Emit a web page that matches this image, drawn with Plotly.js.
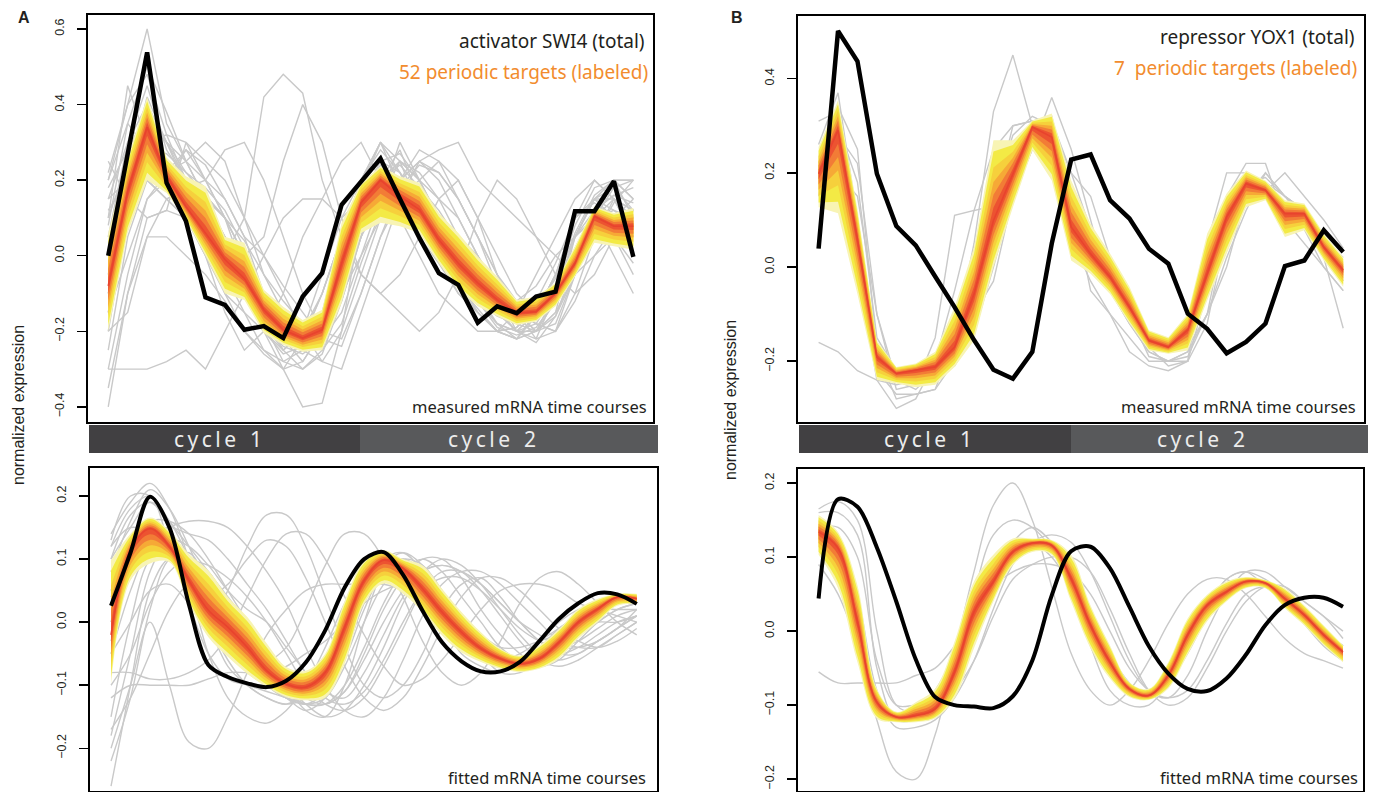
<!DOCTYPE html>
<html>
<head>
<meta charset="utf-8">
<script src="https://cdn.plot.ly/plotly-3.0.1.min.js"></script>
<style>html,body{margin:0;padding:0;overflow:hidden;background:#fff}#chart{width:1373px;height:792px}</style>
</head>
<body>
<div id="chart"></div>
<script>
// time points (28 samples over two cell cycles)
const timePoints = [0,1,2,3,4,5,6,7,8,9,10,11,12,13,14,15,16,17,18,19,20,21,22,23,24,25,26,27];

// ---------- Panel A, measured ----------
const swi4Measured = [0, 0.27, 0.538, 0.193, 0.091, -0.11, -0.13, -0.196, -0.186, -0.218, -0.108, -0.046, 0.135, 0.196, 0.257, 0.15, 0.047, -0.046, -0.077, -0.177, -0.134, -0.152, -0.108, -0.095, 0.118, 0.118, 0.197, -0.003];
const aMeasBandTop = [0.06, 0.26, 0.42, 0.26, 0.21, 0.184, 0.05, 0.034, -0.09, -0.135, -0.17, -0.143, 0.087, 0.193, 0.237, 0.21, 0.193, 0.113, 0.06, -0.002, -0.055, -0.117, -0.108, -0.072, 0.025, 0.131, 0.113, 0.126];
const aMeasBandMid = [-0.08, 0.17, 0.34, 0.21, 0.13, 0.06, -0.01, -0.06, -0.143, -0.196, -0.218, -0.196, -0.02, 0.14, 0.2, 0.157, 0.122, 0.042, -0.02, -0.072, -0.117, -0.152, -0.148, -0.099, -0.02, 0.104, 0.078, 0.078];
const aMeasBandBot = [-0.2, 0.06, 0.2, 0.166, 0.095, 0.0, -0.1, -0.117, -0.205, -0.236, -0.254, -0.25, -0.125, 0.06, 0.087, 0.078, 0.06, -0.02, -0.09, -0.134, -0.16, -0.183, -0.174, -0.134, -0.055, 0.034, 0.025, 0.016];
const aMeasGrey = [
  [0.05,0.3,0.45,0.28,0.2,0.1,0.0,-0.1,-0.18,-0.25,-0.2,-0.05,0.1,0.2,0.28,0.22,0.15,0.05,-0.05,-0.12,-0.18,-0.2,-0.15,-0.05,0.1,0.15,0.12,0.1],
  [0.2,0.4,0.6,0.35,0.25,0.15,0.05,-0.05,-0.15,-0.2,-0.22,-0.1,0.05,0.2,0.3,0.25,0.12,0.05,-0.05,-0.1,-0.15,-0.2,-0.18,-0.1,0.05,0.15,0.2,0.15],
  [-0.1,0.1,0.2,0.15,0.1,0.05,0.0,0.1,0.42,0.48,0.43,0.2,0.05,-0.05,-0.1,-0.15,-0.2,-0.15,-0.05,0.1,0.2,0.15,0.05,-0.05,-0.1,-0.05,0.05,0.1],
  [-0.15,0.0,0.15,0.2,0.28,0.2,0.1,0.0,0.05,0.25,0.4,0.3,0.1,-0.05,-0.1,-0.05,0.05,0.15,0.2,0.1,0.0,-0.1,-0.15,-0.1,0.0,0.1,0.15,0.1],
  [-0.4,-0.1,0.1,0.12,0.1,0.05,-0.05,-0.15,-0.25,-0.3,-0.28,-0.2,-0.1,0.0,0.1,0.2,0.25,0.22,0.15,0.05,-0.05,-0.15,-0.2,-0.15,0.05,0.15,0.18,0.2],
  [-0.3,-0.3,-0.3,-0.28,-0.25,-0.3,-0.2,-0.1,0.0,0.1,0.15,0.15,0.1,0.15,0.2,0.25,0.2,0.1,0.0,-0.1,-0.15,-0.2,-0.2,-0.15,-0.05,0.05,0.1,0.05],
  [0.15,0.3,0.4,0.3,0.25,0.3,0.25,0.1,-0.05,-0.15,-0.2,-0.22,-0.15,0.0,0.15,0.3,0.2,0.1,0.0,-0.1,-0.18,-0.22,-0.2,-0.12,0.0,0.1,0.2,0.15],
  [0.1,0.45,0.3,0.25,0.2,0.05,-0.1,-0.15,-0.2,-0.22,-0.25,-0.15,0.05,0.2,0.3,0.18,0.05,-0.02,-0.1,-0.15,-0.2,-0.22,-0.15,-0.05,0.1,0.2,0.15,0.05],
  [-0.2,0.1,0.25,0.2,0.1,0.0,-0.1,-0.2,-0.25,-0.28,-0.25,-0.2,-0.05,0.1,0.15,0.2,0.25,0.28,0.3,0.2,0.15,0.1,0.05,0.0,-0.05,0.0,0.05,-0.05],
  [0.0,0.2,0.35,0.25,0.15,0.1,0.05,-0.05,-0.15,-0.25,-0.3,-0.25,-0.1,0.05,0.15,0.25,0.2,0.15,0.05,-0.05,-0.1,-0.12,-0.08,0.0,0.05,0.1,0.0,-0.1],
  [-0.25,0.05,0.2,0.15,0.1,0.0,-0.15,-0.25,-0.2,-0.1,0.05,0.15,0.25,0.3,0.2,0.1,0.0,-0.1,-0.15,-0.2,-0.2,-0.15,-0.05,0.05,0.15,0.2,0.15,0.05],
  [0.25,0.15,0.1,0.12,0.3,0.2,0.15,0.05,-0.1,-0.2,-0.25,-0.2,-0.1,0.05,0.2,0.28,0.15,0.05,-0.05,-0.12,-0.18,-0.2,-0.15,-0.05,0.05,0.15,0.1,0.15],
  [-0.15,0.15,0.3,0.25,0.2,0.15,0.1,-0.05,-0.2,-0.3,-0.4,-0.39,-0.2,0.1,0.2,0.25,0.22,0.15,0.1,0.0,-0.1,-0.2,-0.22,-0.1,0.05,0.1,0.05,-0.02],
  [0.1,0.25,0.35,0.3,0.2,0.1,0.0,-0.1,-0.2,-0.25,-0.2,-0.1,0.05,0.15,0.2,0.15,0.1,0.05,0.0,-0.05,-0.1,-0.15,-0.2,-0.18,-0.05,0.1,0.2,0.2],
  [0.2,0.35,0.5,0.38,0.25,0.15,0.05,-0.08,-0.18,-0.24,-0.26,-0.22,-0.05,0.12,0.22,0.2,0.1,0.0,-0.08,-0.15,-0.2,-0.22,-0.2,-0.1,0.05,0.15,0.15,0.12],
  [-0.05,0.22,0.42,0.3,0.18,0.12,0.05,-0.05,-0.15,-0.22,-0.24,-0.18,0.02,0.18,0.3,0.22,0.12,0.02,-0.08,-0.14,-0.2,-0.22,-0.16,-0.08,0.08,0.18,0.2,0.1],
  [0.12,0.2,0.3,0.32,0.3,0.25,0.2,0.1,0.0,-0.1,-0.2,-0.28,-0.3,-0.15,0.0,0.15,0.25,0.2,0.1,0.0,-0.1,-0.15,-0.18,-0.2,-0.1,0.05,0.15,0.12],
  [-0.3,-0.05,0.15,0.22,0.25,0.2,0.1,0.0,-0.1,-0.2,-0.25,-0.28,-0.2,-0.05,0.1,0.2,0.28,0.25,0.15,0.05,-0.05,-0.15,-0.22,-0.2,-0.05,0.1,0.12,0.08],
  [0.18,0.28,0.38,0.3,0.22,0.18,0.12,0.02,-0.12,-0.22,-0.28,-0.2,0.0,0.15,0.25,0.27,0.2,0.08,-0.03,-0.12,-0.19,-0.21,-0.19,-0.12,0.02,0.12,0.16,0.18],
  [-0.1,0.12,0.28,0.27,0.22,0.16,0.1,0.0,-0.1,-0.18,-0.22,-0.25,-0.18,-0.02,0.12,0.2,0.18,0.12,0.04,-0.06,-0.14,-0.2,-0.23,-0.16,-0.02,0.12,0.1,0.06],
  [0.22,0.4,0.48,0.32,0.2,0.1,0.02,-0.1,-0.2,-0.26,-0.24,-0.15,0.02,0.16,0.24,0.19,0.1,0.02,-0.06,-0.12,-0.16,-0.18,-0.17,-0.08,0.06,0.16,0.2,0.2],
  [-0.2,-0.15,0.05,0.15,0.18,0.16,0.1,0.04,-0.05,-0.12,-0.18,-0.2,-0.12,0.05,0.18,0.2,0.15,0.1,0.05,0.0,-0.08,-0.14,-0.18,-0.2,-0.12,0.0,0.08,0.12],
  [0.08,0.35,0.28,0.18,0.14,0.06,-0.02,-0.1,-0.18,-0.28,-0.3,-0.26,-0.12,0.05,0.2,0.24,0.18,0.05,-0.06,-0.15,-0.2,-0.19,-0.12,-0.02,0.1,0.14,0.1,0.0],
  [0.0,0.18,0.32,0.22,0.28,0.24,0.15,0.05,0.0,-0.08,-0.15,-0.22,-0.24,-0.1,0.05,0.18,0.24,0.22,0.15,0.05,-0.08,-0.18,-0.2,-0.16,-0.05,0.05,0.14,0.2],
  [-0.35,-0.1,0.05,0.05,0.0,-0.05,-0.12,-0.2,-0.26,-0.3,-0.22,-0.1,0.05,0.2,0.25,0.22,0.12,0.0,-0.1,-0.15,-0.2,-0.19,-0.14,-0.06,0.05,0.12,0.16,0.14],
  [0.15,0.2,0.25,0.22,0.18,0.2,0.28,0.3,0.2,0.05,-0.1,-0.2,-0.22,-0.1,0.05,0.15,0.2,0.25,0.2,0.1,-0.05,-0.12,-0.15,-0.12,-0.02,0.1,0.18,0.12]
];

// ---------- Panel B, measured ----------
const yox1Measured = [0.039, 0.501, 0.437, 0.198, 0.087, 0.046, -0.02, -0.085, -0.155, -0.218, -0.237, -0.18, 0.05, 0.228, 0.239, 0.142, 0.103, 0.039, 0.007, -0.099, -0.131, -0.183, -0.159, -0.12, 0.002, 0.014, 0.078, 0.032];
const bMeasBandTop = [0.255, 0.354, 0.123, -0.156, -0.212, -0.205, -0.18, -0.085, 0.042, 0.269, 0.269, 0.311, 0.326, 0.184, 0.092, 0.029, -0.042, -0.134, -0.149, -0.099, 0.071, 0.156, 0.205, 0.184, 0.142, 0.135, 0.071, 0.021];
const bMeasBandMid = [0.198, 0.29, 0.059, -0.191, -0.226, -0.219, -0.212, -0.17, -0.057, 0.099, 0.198, 0.297, 0.276, 0.085, 0.028, -0.021, -0.085, -0.156, -0.17, -0.134, -0.014, 0.106, 0.177, 0.163, 0.113, 0.113, 0.042, -0.007];
const bMeasBandBot = [0.127, 0.114, -0.058, -0.24, -0.247, -0.255, -0.25, -0.212, -0.156, 0.0, 0.127, 0.248, 0.184, 0.014, -0.014, -0.057, -0.12, -0.177, -0.184, -0.177, -0.071, 0.029, 0.127, 0.142, 0.064, 0.078, 0.014, -0.042];
const bMeasGrey = [
  [0.31,0.33,0.0,-0.24,-0.3,-0.28,-0.2,-0.05,0.12,0.13,0.3,0.31,0.32,0.15,-0.05,-0.1,-0.15,-0.2,-0.2,-0.18,0.05,0.15,0.22,0.22,0.1,0.05,0.0,-0.05],
  [0.26,0.37,0.1,-0.22,-0.27,-0.27,-0.26,-0.15,0.05,0.33,0.45,0.3,0.22,0.12,0.05,-0.05,-0.12,-0.18,-0.2,-0.19,-0.1,0.1,0.18,0.19,0.15,0.12,0.02,-0.13],
  [-0.16,-0.18,-0.22,-0.24,-0.25,-0.24,-0.22,-0.21,-0.14,0.0,0.15,0.25,0.36,0.25,0.1,-0.05,-0.12,-0.18,-0.2,-0.2,-0.05,0.05,0.15,0.2,0.15,0.1,0.05,-0.03],
  [0.2,0.28,0.22,-0.1,-0.24,-0.26,-0.22,-0.15,-0.1,0.05,0.15,0.25,0.3,0.2,0.15,0.02,-0.1,-0.17,-0.21,-0.2,-0.12,0.08,0.16,0.18,0.15,0.12,0.06,0.02],
  [0.15,0.34,0.25,-0.18,-0.28,-0.27,-0.26,-0.2,-0.1,-0.03,0.15,0.27,0.29,0.06,-0.03,-0.1,-0.18,-0.21,-0.22,-0.2,0.05,0.2,0.2,0.18,0.1,0.08,0.0,-0.05],
  [0.18,0.2,0.15,-0.1,-0.26,-0.25,-0.15,0.11,0.12,0.25,0.3,0.31,0.31,0.2,0.08,0.0,-0.1,-0.19,-0.2,-0.18,-0.1,0.02,0.12,0.2,0.15,0.12,0.05,-0.01],
  [0.22,0.3,0.18,-0.15,-0.22,-0.23,-0.2,-0.15,-0.05,0.15,0.28,0.32,0.3,0.12,0.05,-0.02,-0.08,-0.15,-0.18,-0.17,-0.1,0.0,0.15,0.16,0.2,0.15,0.1,0.04]
];

// ---------- Panel A, fitted ----------
const swi4Fitted = [0.026, 0.11, 0.199, 0.15, 0.028, -0.068, -0.087, -0.097, -0.103, -0.093, -0.064, -0.013, 0.055, 0.1, 0.111, 0.075, 0.018, -0.032, -0.062, -0.078, -0.078, -0.063, -0.03, 0.005, 0.03, 0.046, 0.044, 0.029];
const aFitBandTop = [0.098, 0.14, 0.166, 0.145, 0.108, 0.082, 0.04, 0.008, -0.034, -0.071, -0.077, -0.05, 0.034, 0.098, 0.114, 0.1, 0.09, 0.053, 0.016, -0.016, -0.042, -0.053, -0.037, -0.011, 0.021, 0.037, 0.045, 0.045];
const aFitBandMid = [-0.02, 0.114, 0.148, 0.12, 0.066, 0.019, -0.008, -0.04, -0.077, -0.098, -0.103, -0.08, -0.008, 0.066, 0.098, 0.085, 0.053, 0.016, -0.016, -0.042, -0.058, -0.066, -0.058, -0.032, 0.0, 0.021, 0.04, 0.037];
const aFitBandBot = [-0.098, 0.066, 0.093, 0.095, 0.029, -0.024, -0.055, -0.082, -0.103, -0.119, -0.124, -0.12, -0.066, 0.029, 0.061, 0.045, 0.016, -0.021, -0.048, -0.063, -0.074, -0.079, -0.074, -0.058, -0.026, 0.0, 0.026, 0.029];
const aFitGrey = [
  [0.14,0.19,0.22,0.18,0.1,0.0,-0.07,-0.1,-0.12,-0.13,-0.12,-0.08,-0.02,0.05,0.1,0.11,0.08,0.03,-0.02,-0.05,-0.07,-0.07,-0.05,-0.03,0.0,0.02,0.03,0.04],
  [-0.26,-0.1,0.05,0.1,0.05,-0.05,-0.12,-0.15,-0.16,-0.14,-0.1,-0.04,0.03,0.08,0.1,0.09,0.05,0.0,-0.05,-0.07,-0.08,-0.06,-0.03,0.0,0.02,0.03,0.04,0.04],
  [-0.2,-0.1,0.0,-0.1,-0.19,-0.2,-0.15,-0.08,-0.02,0.02,0.05,0.06,0.06,0.06,0.06,0.05,0.03,0.0,-0.03,-0.05,-0.06,-0.05,-0.03,-0.01,0.01,0.02,0.02,0.02],
  [-0.05,0.0,0.05,0.06,0.03,0.0,0.05,0.12,0.17,0.17,0.12,0.04,-0.04,-0.1,-0.12,-0.1,-0.05,0.02,0.06,0.07,0.04,0.0,-0.03,-0.05,-0.04,-0.02,0.0,0.01],
  [-0.1,-0.05,0.03,0.08,0.1,0.08,0.03,-0.03,-0.06,-0.04,0.02,0.09,0.14,0.14,0.1,0.04,-0.03,-0.08,-0.1,-0.08,-0.03,0.03,0.07,0.08,0.06,0.03,0.0,-0.02],
  [0.12,0.18,0.2,0.16,0.12,0.08,0.04,0.0,-0.05,-0.1,-0.14,-0.15,-0.1,0.0,0.08,0.1,0.09,0.05,0.0,-0.04,-0.06,-0.07,-0.06,-0.04,-0.01,0.01,0.03,0.03],
  [0.05,0.12,0.16,0.16,0.14,0.1,0.05,0.0,-0.05,-0.09,-0.12,-0.13,-0.11,-0.05,0.02,0.07,0.1,0.1,0.07,0.02,-0.02,-0.05,-0.07,-0.06,-0.03,0.0,0.02,0.03],
  [-0.15,0.0,0.1,0.12,0.1,0.06,0.02,-0.02,-0.06,-0.1,-0.13,-0.15,-0.14,-0.1,-0.04,0.03,0.08,0.09,0.08,0.05,0.01,-0.03,-0.06,-0.07,-0.06,-0.04,-0.02,0.0],
  [-0.08,-0.08,-0.09,-0.09,-0.08,-0.06,-0.02,0.04,0.1,0.14,0.14,0.1,0.04,-0.02,-0.07,-0.1,-0.09,-0.06,-0.02,0.02,0.05,0.06,0.06,0.05,0.03,0.02,0.01,0.0],
  [0.1,0.15,0.19,0.16,0.1,0.02,-0.04,-0.08,-0.1,-0.12,-0.14,-0.12,-0.06,0.02,0.08,0.1,0.08,0.04,0.0,-0.03,-0.06,-0.07,-0.07,-0.05,-0.02,0.01,0.03,0.04],
  [-0.18,-0.05,0.08,0.13,0.12,0.09,0.05,0.02,0.0,-0.04,-0.08,-0.12,-0.13,-0.11,-0.06,0.0,0.05,0.07,0.07,0.05,0.02,-0.01,-0.03,-0.04,-0.03,-0.01,0.01,0.02],
  [0.0,0.1,0.14,0.15,0.14,0.13,0.1,0.06,0.02,-0.03,-0.08,-0.11,-0.12,-0.08,-0.02,0.04,0.08,0.1,0.09,0.06,0.02,-0.02,-0.05,-0.06,-0.05,-0.03,-0.01,0.01],
  [-0.12,-0.1,-0.1,-0.1,-0.1,-0.09,-0.08,-0.08,-0.08,-0.07,-0.05,-0.03,0.0,0.03,0.05,0.06,0.05,0.03,0.0,-0.02,-0.04,-0.04,-0.03,-0.02,-0.01,0.0,0.0,0.01],
  [0.08,0.16,0.21,0.18,0.12,0.05,-0.01,-0.06,-0.1,-0.12,-0.13,-0.13,-0.11,-0.06,0.0,0.05,0.08,0.09,0.08,0.06,0.03,0.0,-0.03,-0.05,-0.05,-0.03,-0.01,0.02],
  [-0.03,0.08,0.15,0.14,0.08,0.02,-0.03,-0.07,-0.1,-0.12,-0.12,-0.09,-0.02,0.05,0.09,0.1,0.07,0.03,-0.01,-0.04,-0.06,-0.07,-0.06,-0.04,-0.01,0.01,0.03,0.03],
  [0.04,0.1,0.13,0.12,0.1,0.09,0.07,0.04,0.0,-0.05,-0.1,-0.13,-0.14,-0.12,-0.07,-0.01,0.05,0.08,0.08,0.06,0.03,0.0,-0.02,-0.04,-0.04,-0.03,-0.01,0.01],
  [0.1,0.17,0.19,0.15,0.08,0.0,-0.06,-0.1,-0.12,-0.13,-0.11,-0.06,0.01,0.07,0.1,0.09,0.06,0.02,-0.02,-0.05,-0.07,-0.07,-0.05,-0.02,0.01,0.03,0.04,0.04],
  [-0.22,-0.12,0.02,0.1,0.11,0.06,0.0,-0.05,-0.09,-0.12,-0.13,-0.12,-0.07,0.0,0.06,0.09,0.08,0.05,0.0,-0.04,-0.06,-0.06,-0.04,-0.01,0.01,0.03,0.03,0.03],
  [0.13,0.2,0.2,0.12,0.03,-0.05,-0.09,-0.1,-0.11,-0.12,-0.13,-0.11,-0.05,0.03,0.09,0.11,0.09,0.04,-0.01,-0.05,-0.08,-0.08,-0.06,-0.03,0.0,0.02,0.04,0.04],
  [-0.05,0.05,0.12,0.15,0.16,0.16,0.15,0.12,0.08,0.03,-0.04,-0.1,-0.14,-0.15,-0.12,-0.06,0.01,0.06,0.08,0.08,0.06,0.03,0.0,-0.03,-0.04,-0.04,-0.02,0.0],
  [-0.17,-0.12,-0.05,0.02,0.06,0.06,0.03,-0.02,-0.07,-0.11,-0.13,-0.13,-0.1,-0.04,0.03,0.08,0.1,0.08,0.04,0.0,-0.04,-0.06,-0.06,-0.05,-0.02,0.0,0.02,0.03],
  [0.12,0.15,0.14,0.1,0.06,0.04,0.06,0.1,0.13,0.12,0.07,0.0,-0.07,-0.12,-0.14,-0.12,-0.07,-0.01,0.04,0.07,0.07,0.05,0.02,-0.01,-0.03,-0.04,-0.03,-0.01]
];

// ---------- Panel B, fitted ----------
const yox1Fitted = [0.044, 0.178, 0.168, 0.113, 0.04, -0.038, -0.089, -0.1, -0.102, -0.104, -0.088, -0.04, 0.048, 0.108, 0.114, 0.085, 0.033, -0.02, -0.057, -0.078, -0.081, -0.064, -0.032, 0.008, 0.035, 0.045, 0.045, 0.033];
const bFitBandTop = [0.157, 0.134, 0.062, -0.078, -0.109, -0.096, -0.078, -0.014, 0.067, 0.103, 0.125, 0.125, 0.123, 0.103, 0.035, -0.019, -0.069, -0.078, -0.042, 0.017, 0.049, 0.067, 0.073, 0.069, 0.058, 0.035, 0.008, -0.019];
const bFitBandMid = [0.134, 0.112, 0.013, -0.096, -0.116, -0.114, -0.105, -0.055, 0.026, 0.067, 0.107, 0.119, 0.116, 0.071, 0.008, -0.042, -0.078, -0.087, -0.06, -0.005, 0.035, 0.053, 0.067, 0.065, 0.044, 0.022, -0.005, -0.028];
const bFitBandBot = [0.103, 0.058, -0.042, -0.118, -0.123, -0.123, -0.118, -0.091, -0.023, 0.04, 0.089, 0.107, 0.103, 0.04, -0.023, -0.064, -0.089, -0.093, -0.078, -0.032, 0.013, 0.04, 0.058, 0.058, 0.031, 0.008, -0.019, -0.042];
const bFitGrey = [
  [0.09,0.05,-0.02,-0.12,-0.19,-0.2,-0.14,-0.03,0.08,0.17,0.2,0.15,0.06,-0.03,-0.08,-0.1,-0.08,-0.04,0.01,0.05,0.07,0.07,0.05,0.02,-0.01,-0.03,-0.04,-0.05],
  [-0.055,-0.07,-0.07,-0.07,-0.07,-0.06,-0.05,-0.02,0.02,0.06,0.08,0.09,0.09,0.08,0.05,0.0,-0.05,-0.08,-0.09,-0.08,-0.04,0.01,0.05,0.06,0.05,0.03,0.0,-0.02],
  [0.165,0.175,0.15,0.0,-0.1,-0.11,-0.1,-0.05,0.05,0.13,0.15,0.14,0.11,0.05,-0.02,-0.08,-0.1,-0.1,-0.07,-0.02,0.03,0.07,0.08,0.07,0.05,0.03,0.0,-0.02],
  [0.16,0.16,0.13,-0.05,-0.12,-0.12,-0.11,-0.07,0.0,0.07,0.12,0.14,0.12,0.08,0.03,-0.03,-0.07,-0.09,-0.07,-0.02,0.03,0.07,0.08,0.06,0.04,0.02,0.0,-0.02],
  [0.15,0.13,0.05,-0.08,-0.13,-0.13,-0.12,-0.09,-0.04,0.03,0.09,0.12,0.13,0.12,0.08,0.02,-0.04,-0.08,-0.09,-0.06,0.0,0.05,0.08,0.08,0.06,0.04,0.02,0.0],
  [0.14,0.14,0.1,-0.04,-0.1,-0.1,-0.1,-0.08,-0.04,0.02,0.07,0.09,0.1,0.1,0.08,0.03,-0.03,-0.08,-0.1,-0.09,-0.05,0.0,0.04,0.06,0.06,0.04,0.02,-0.01],
  [0.12,0.1,0.02,-0.09,-0.12,-0.11,-0.08,-0.03,0.04,0.1,0.12,0.12,0.1,0.06,0.01,-0.04,-0.08,-0.09,-0.07,-0.03,0.02,0.06,0.07,0.06,0.04,0.01,-0.02,-0.04]
];

// ---------- drawing ----------
const W = 1373, H = 792;
const px = v => v / W;
const py = v => 1 - v / H;

const bandLayers = [
  {f: 1.0,  c: '#f8f4b4'},
  {f: 0.86, c: '#f3ea45'},
  {f: 0.66, c: '#f6d03c'},
  {f: 0.48, c: '#f6a936'},
  {f: 0.32, c: '#f27c36'},
  {f: 0.16, c: '#ec5331'}
];

const traces = [];
function panel(xa, ya, greys, top, mid, bot, black, smooth, blackW) {
  const shape = smooth ? 'spline' : 'linear';
  greys.forEach(g => traces.push({
    x: timePoints, y: g, xaxis: xa, yaxis: ya, mode: 'lines', hoverinfo: 'skip',
    line: {color: '#c9c9c9', width: 1.4, shape: shape, smoothing: 1}
  }));
  bandLayers.forEach(L => {
    const up = mid.map((m, i) => m + L.f * (top[i] - m));
    const lo = mid.map((m, i) => m + L.f * (bot[i] - m));
    traces.push({x: timePoints, y: lo, xaxis: xa, yaxis: ya, mode: 'lines', hoverinfo: 'skip',
      line: {width: 0, color: L.c, shape: shape, smoothing: 1}});
    traces.push({x: timePoints, y: up, xaxis: xa, yaxis: ya, mode: 'lines', hoverinfo: 'skip',
      fill: 'tonexty', fillcolor: L.c, line: {width: 0, color: L.c, shape: shape, smoothing: 1}});
  });
  traces.push({x: timePoints, y: mid, xaxis: xa, yaxis: ya, mode: 'lines', hoverinfo: 'skip',
    line: {color: '#e8432e', width: 1.6, shape: shape, smoothing: 1}});
  traces.push({x: timePoints, y: black, xaxis: xa, yaxis: ya, mode: 'lines', hoverinfo: 'skip',
    line: {color: '#000000', width: blackW, shape: shape, smoothing: 0.9}});
}

panel('x', 'y', aMeasGrey, aMeasBandTop, aMeasBandMid, aMeasBandBot, swi4Measured, false, 4.5);
panel('x2', 'y2', bMeasGrey, bMeasBandTop, bMeasBandMid, bMeasBandBot, yox1Measured, false, 4.5);
panel('x3', 'y3', aFitGrey, aFitBandTop, aFitBandMid, aFitBandBot, swi4Fitted, true, 4);
panel('x4', 'y4', bFitGrey, bFitBandTop, bFitBandMid, bFitBandBot, yox1Fitted, true, 4);

const tickFont = {family: 'Liberation Sans, Arial, sans-serif', size: 12.5, color: '#231f20'};
function xAx(l, r, range) {
  return {domain: [px(l), px(r)], range: range, showticklabels: false, ticks: '', showgrid: false,
    zeroline: false, showline: true, mirror: true, linecolor: '#000', linewidth: 2, fixedrange: true};
}
function yAx(b, t, range, vals, txt, anchor) {
  return {domain: [py(b), py(t)], range: range, tickvals: vals, ticktext: txt, tickangle: -90,
    ticks: 'outside', ticklen: 9, tickwidth: 1.5, tickcolor: '#000', tickfont: tickFont,
    ticklabelstandoff: 8, showgrid: false, zeroline: false, showline: true, mirror: true,
    linecolor: '#000', linewidth: 2, anchor: anchor, fixedrange: true};
}

const ticksA1 = [-0.4, -0.2, 0, 0.2, 0.4, 0.6];
const ticksA1txt = ['\u22120.4', '\u22120.2', '0.0', '0.2', '0.4', '0.6'];
const ticksB1 = [-0.2, 0, 0.2, 0.4];
const ticksB1txt = ['\u22120.2', '0.0', '0.2', '0.4'];
const ticksFit = [-0.2, -0.1, 0, 0.1, 0.2];
const ticksFitTxt = ['\u22120.2', '\u22120.1', '0.0', '0.1', '0.2'];

const txtFont = 'Noto Sans, Open Sans, sans-serif';
const ann = (x, y, text, opts) => Object.assign({xref: 'paper', yref: 'paper', x: px(x), y: py(y), text: text,
  showarrow: false, xanchor: 'right', yanchor: 'middle', font: {family: txtFont, size: 16, color: '#231f20'}}, opts || {});

const cyc1 = 'c\u2009y\u2009c\u2009l\u2009e\u2002\u20091';
const cyc2 = 'c\u2009y\u2009c\u2009l\u2009e\u2002\u20092';
const cycFont = {family: txtFont, size: 21, color: '#ececec'};

const annotations = [
  ann(24, 18, '<b>A</b>', {xanchor: 'center', font: {family: 'Liberation Sans, Arial', size: 16, color: '#231f20'}}),
  ann(737, 18, '<b>B</b>', {xanchor: 'center', font: {family: 'Liberation Sans, Arial', size: 16, color: '#231f20'}}),
  ann(647, 41, 'activator SWI4 (total)', {font: {family: txtFont, size: 19, color: '#231f20'}}),
  ann(650, 72, '52 periodic targets (labeled)', {font: {family: txtFont, size: 19, color: '#f28c2e'}}),
  ann(1357, 37, 'repressor YOX1 (total)', {font: {family: txtFont, size: 19, color: '#231f20'}}),
  ann(1359, 68, '7&nbsp;&nbsp;periodic targets (labeled)', {font: {family: txtFont, size: 19, color: '#f28c2e'}}),
  ann(649, 406, 'measured mRNA time courses', {font: {family: txtFont, size: 16.5, color: '#231f20'}}),
  ann(1358, 406, 'measured mRNA time courses', {font: {family: txtFont, size: 16.5, color: '#231f20'}}),
  ann(648, 777, 'fitted mRNA time courses', {font: {family: txtFont, size: 16.5, color: '#231f20'}}),
  ann(1360, 777, 'fitted mRNA time courses', {font: {family: txtFont, size: 16.5, color: '#231f20'}}),
  ann(218, 439, cyc1, {xanchor: 'center', font: cycFont}),
  ann(492, 439, cyc2, {xanchor: 'center', font: cycFont}),
  ann(928, 439, cyc1, {xanchor: 'center', font: cycFont}),
  ann(1201, 439, cyc2, {xanchor: 'center', font: cycFont}),
  ann(18, 405, 'normalized expression', {xanchor: 'center', textangle: -90, font: {family: 'Liberation Sans, Arial', size: 16, color: '#231f20'}}),
  ann(730, 400, 'normalized expression', {xanchor: 'center', textangle: -90, font: {family: 'Liberation Sans, Arial', size: 16, color: '#231f20'}})
];

const rect = (x0, x1, y0, y1, c) => ({type: 'rect', xref: 'paper', yref: 'paper', x0: px(x0), x1: px(x1),
  y0: py(y1), y1: py(y0), fillcolor: c, line: {width: 0}, layer: 'below'});
const shapes = [
  rect(89, 360, 425, 453, '#414042'),
  rect(360, 658, 425, 453, '#58595b'),
  rect(799, 1071, 425, 453, '#414042'),
  rect(1071, 1368, 425, 453, '#58595b')
];

const layout = {
  width: W, height: H, margin: {l: 0, r: 0, t: 0, b: 0}, paper_bgcolor: '#fff', plot_bgcolor: 'rgba(0,0,0,0)',
  showlegend: false, hovermode: false,
  xaxis: xAx(88, 653, [-1.04, 28.01]),
  yaxis: yAx(422, 15, [-0.44, 0.637], ticksA1, ticksA1txt, 'x'),
  xaxis2: xAx(798, 1364, [-1.06, 28.07]),
  yaxis2: yAx(422, 16, [-0.329, 0.533], ticksB1, ticksB1txt, 'x2'),
  xaxis3: xAx(90, 657, [-1.08, 28.04]),
  yaxis3: yAx(791, 468, [-0.2677, 0.2444], ticksFit, ticksFitTxt, 'x3'),
  xaxis4: xAx(798, 1363, [-1.06, 28.03]),
  yaxis4: yAx(791, 469, [-0.216, 0.219], ticksFit, ticksFitTxt, 'x4'),
  annotations: annotations,
  shapes: shapes
};
layout.xaxis.anchor = 'y'; layout.xaxis2.anchor = 'y2'; layout.xaxis3.anchor = 'y3'; layout.xaxis4.anchor = 'y4';

Plotly.newPlot('chart', traces, layout, {staticPlot: true, displayModeBar: false});
</script>
</body>
</html>
